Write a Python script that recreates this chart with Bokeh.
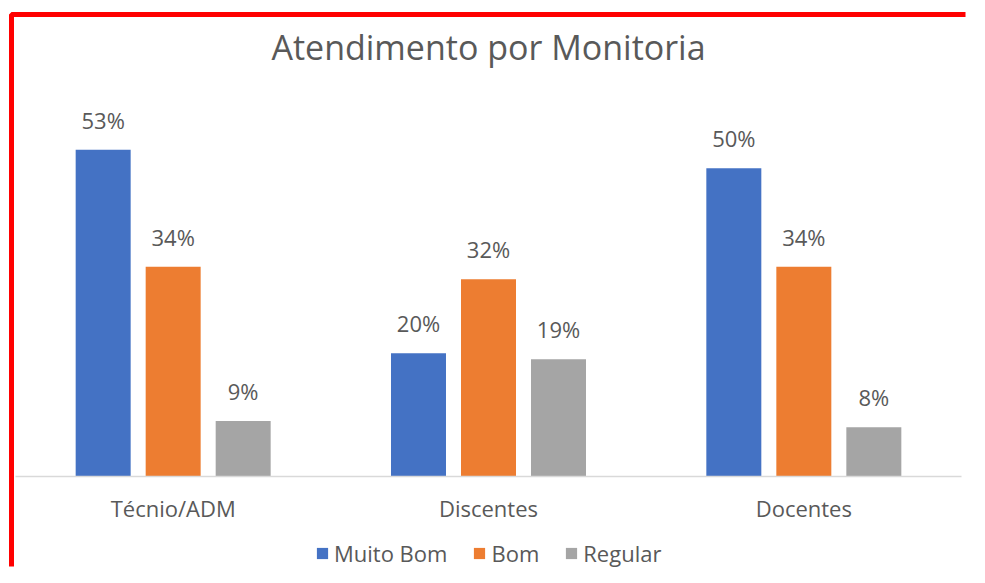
from bokeh.plotting import figure
from bokeh.models import ColumnDataSource, Legend, LegendItem, FactorRange, Range1d, Label
from bokeh.transform import dodge
from bokeh.embed import file_html
from bokeh.resources import INLINE

categories = ["Técnio/ADM", "Discentes", "Docentes"]
series = ["Muito Bom", "Bom", "Regular"]
muito_bom = [53, 20, 50]
bom = [34, 32, 34]
regular = [9, 19, 8]
colors = ["#4472C4", "#ED7D31", "#A5A5A5"]
title_text = "Atendimento por Monitoria"

FONT = "Open Sans"
TXT = "#595959"

W, H = 969, 567
ML, MT, MR = 11, 14, 4
FW, FH = W - ML - MR, H - MT

p = figure(width=W, height=H,
           x_range=FactorRange(*categories, range_padding=0.0127, range_padding_units="absolute"),
           y_range=Range1d(-14.76, 74.92),
           output_backend="svg", toolbar_location=None,
           min_border_left=ML, min_border_right=MR, min_border_top=MT, min_border_bottom=0)

# red frame of the embedded picture: left and top edges only
p.outline_line_color = "#FF0000"
p.outline_line_width = 5
p.outline_line_dash = f"{FW} {FW + FH - 1} {FH - 1}"

p.grid.visible = False
p.yaxis.visible = False
p.background_fill_color = "white"
p.border_fill_color = "white"

xa = p.xaxis[0]
xa.fixed_location = 0
xa.bounds = (0, 3)
xa.axis_line_color = "#D9D9D9"
xa.axis_line_width = 1.5
xa.major_tick_line_color = None
xa.minor_tick_line_color = None
xa.major_label_text_font = FONT
xa.major_label_text_font_size = "22px"
xa.major_label_text_color = TXT
xa.major_label_standoff = 11

p.add_layout(Label(x=1.5, y=69.6, text=title_text, text_align="center",
                   text_baseline="alphabetic", text_font=FONT, text_font_size="34px",
                   text_color=TXT))

offsets = [-0.222, 0.0, 0.222]
bar_w = 0.1744
items = []
for name, vals, col, off in zip(series, [muito_bom, bom, regular], colors, offsets):
    src = ColumnDataSource(dict(cat=categories, val=vals, lab=[f"{v}%" for v in vals]))
    r = p.vbar(x=dodge("cat", off, range=p.x_range), top="val", width=bar_w, source=src,
               fill_color=col, line_color=None)
    p.text(x=dodge("cat", off, range=p.x_range), y="val", text="lab", source=src,
           text_align="center", text_baseline="alphabetic", y_offset=-30,
           text_font={"value": FONT}, text_font_size="22px", text_color=TXT)
    items.append(LegendItem(label=name, renderers=[r]))

legend = Legend(items=items, orientation="horizontal", location=(304, -1),
                border_line_color=None, background_fill_alpha=0,
                label_text_font=FONT, label_text_font_size="22px", label_text_color=TXT,
                glyph_width=14, glyph_height=14, label_standoff=5, spacing=25,
                padding=0, margin=0)
p.add_layout(legend, "center")

open("out.html", "w").write(file_html(p, INLINE))
